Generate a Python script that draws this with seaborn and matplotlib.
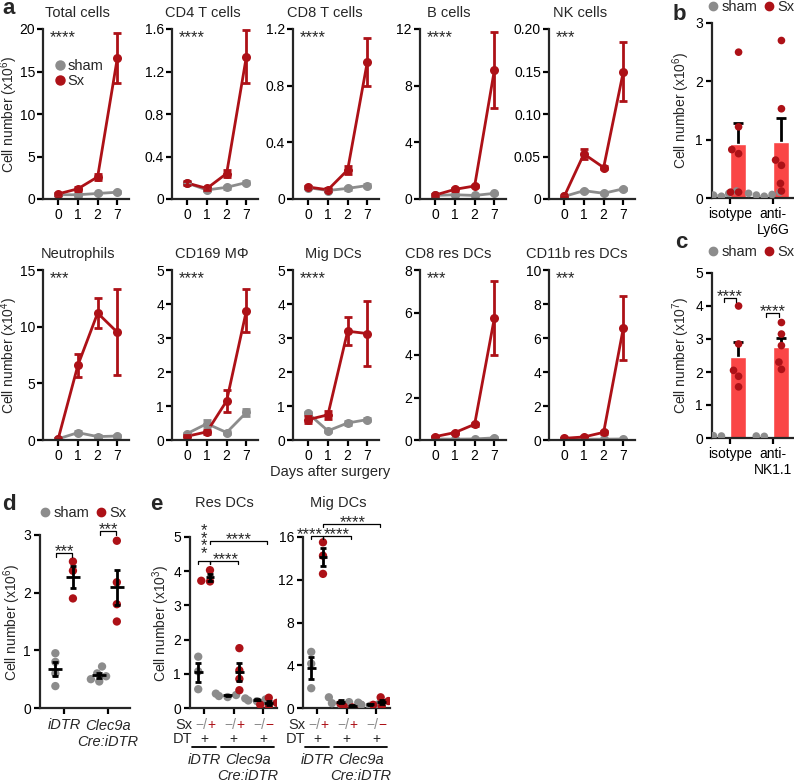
import numpy as np
import pandas as pd
import matplotlib
matplotlib.use("Agg")
import matplotlib.pyplot as plt
from matplotlib.lines import Line2D
from matplotlib import transforms
import seaborn as sns

W, H = 794, 782

RED = "#AD1117"
BAR_RED = "#FA4646"
GRAY = "#8C8C8C"

# ---------------- panel a: time course ----------------
days = ["0", "1", "2", "7"]
a_titles = ["Total cells", "CD4 T cells", "CD8 T cells", "B cells", "NK cells",
            "Neutrophils", "CD169 MΦ", "Mig DCs", "CD8 res DCs", "CD11b res DCs"]
a_stars = ["****", "****", "****", "****", "***", "***", "****", "****", "***", "***"]
sx_mean = [
    [0.6, 1.2, 2.6, 16.6],
    [0.15, 0.10, 0.24, 1.34],
    [0.085, 0.065, 0.205, 0.97],
    [0.28, 0.68, 0.92, 9.1],
    [0.003, 0.053, 0.037, 0.150],
    [0.1, 6.6, 11.2, 9.5],
    [0.11, 0.24, 1.15, 3.8],
    [0.6, 0.74, 3.2, 3.13],
    [0.16, 0.35, 0.74, 5.74],
    [0.1, 0.18, 0.45, 6.6],
]
sx_sem = [
    [0.1, 0.2, 0.35, 2.9],
    [0.02, 0.015, 0.035, 0.25],
    [0.01, 0.01, 0.03, 0.17],
    [0.05, 0.1, 0.1, 2.7],
    [0.001, 0.006, 0.002, 0.035],
    [0.1, 1.0, 1.3, 3.8],
    [0.03, 0.05, 0.33, 0.63],
    [0.1, 0.12, 0.42, 0.96],
    [0.03, 0.05, 0.08, 1.75],
    [0.02, 0.03, 0.08, 1.9],
]
sham_mean = [
    [0.5, 0.5, 0.65, 0.8],
    [0.15, 0.085, 0.11, 0.155],
    [0.08, 0.06, 0.075, 0.095],
    [0.25, 0.3, 0.25, 0.4],
    [0.003, 0.0098, 0.0067, 0.012],
    [0.1, 0.65, 0.3, 0.35],
    [0.19, 0.48, 0.22, 0.81],
    [0.78, 0.27, 0.5, 0.6],
    [0.05, 0.04, 0.05, 0.1],
    [0.05, 0.05, 0.05, 0.06],
]
sham_sem = [
    [0.05, 0.1, 0.1, 0.1],
    [0.01, 0.01, 0.015, 0.01],
    [0.005, 0.005, 0.008, 0.008],
    [0.03, 0.05, 0.05, 0.05],
    [0.0005, 0.001, 0.001, 0.001],
    [0.05, 0.15, 0.15, 0.1],
    [0.03, 0.1, 0.05, 0.1],
    [0.05, 0.03, 0.05, 0.05],
    [0.01, 0.01, 0.01, 0.02],
    [0.01, 0.01, 0.01, 0.01],
]
a_yticks = [[0, 5, 10, 15, 20], [0, 0.4, 0.8, 1.2, 1.6], [0, 0.4, 0.8, 1.2],
            [0, 4, 8, 12], [0, 0.05, 0.10, 0.15, 0.20], [0, 5, 10, 15],
            [0, 1, 2, 3, 4, 5], [0, 1, 2, 3, 4, 5], [0, 2, 4, 6, 8], [0, 2, 4, 6, 8, 10]]
a_yticklabels = [["0", "5", "10", "15", "20"], ["0", "0.4", "0.8", "1.2", "1.6"],
                 ["0", "0.4", "0.8", "1.2"], ["0", "4", "8", "12"],
                 ["0", "0.05", "0.10", "0.15", "0.20"], ["0", "5", "10", "15"],
                 ["0", "1", "2", "3", "4", "5"], ["0", "1", "2", "3", "4", "5"],
                 ["0", "2", "4", "6", "8"], ["0", "2", "4", "6", "8", "10"]]

# ---------------- panel b / c: bars with points ----------------
b_groups = ["isotype", "anti-\nLy6G"]
b_sham = [[0.05, 0.08, 0.10, 0.12, 0.15, 0.03], [0.05, 0.08, 0.10, 0.06, 0.03]]
b_sx = [[2.5, 1.22, 0.83, 0.76, 0.10, 0.10], [2.7, 1.53, 0.65, 0.56, 0.25, 0.12]]

c_groups = ["isotype", "anti-\nNK1.1"]
c_sham = [[0.07, 0.06], [0.05, 0.06]]
c_sx = [[4.0, 2.85, 2.05, 1.87, 1.55], [3.5, 3.15, 2.8, 2.3, 2.08]]

# ---------------- panel d ----------------
d_groups = ["iDTR", "Clec9a\nCre:iDTR"]
d_sham = [[0.95, 0.80, 0.60, 0.38], [0.72, 0.60, 0.55, 0.50, 0.46]]
d_sx = [[2.54, 2.38, 1.90], [2.90, 2.18, 1.80, 1.50]]

# ---------------- panel e ----------------
e_titles = ["Res DCs", "Mig DCs"]
e_sham = [
    [[1.50, 1.07, 0.55], [0.38, 0.32, 0.35, 0.42], [0.25, 0.20, 0.28, 0.22]],
    [[5.25, 4.15, 1.85], [0.55, 0.45, 1.00, 0.35], [0.35, 0.30, 0.50, 0.20]],
]
e_sx = [
    [[4.03, 3.70, 3.72], [1.75, 1.10, 0.85, 0.52], [0.15, 0.05, 0.10, 0.30]],
    [[15.5, 14.25, 12.55], [0.30, 0.05, 0.15, 0.40], [0.65, 0.15, 0.30, 1.00]],
]
e_ymax = [5, 16]
e_yticks = [[0, 1, 2, 3, 4, 5], [0, 4, 8, 12, 16]]
e_sx_row = [("−/", "+"), ("−/", "+"), ("−/", "−")]

sns.set_style("ticks")
plt.rcParams["font.family"] = ["Liberation Sans", "DejaVu Sans"]
plt.rcParams["mathtext.fontset"] = "custom"
plt.rcParams["mathtext.rm"] = "Liberation Sans"
plt.rcParams["mathtext.it"] = "Liberation Sans:italic"
plt.rcParams["axes.linewidth"] = 1.6
for k in ["xtick", "ytick"]:
    plt.rcParams[f"{k}.major.width"] = 1.6
    plt.rcParams[f"{k}.major.size"] = 4
    plt.rcParams[f"{k}.labelsize"] = 10
    plt.rcParams[f"{k}.color"] = "black"
    plt.rcParams[f"{k}.major.pad"] = 2.5

STAR_FS = 12
YLAB_FS = 10
fig = plt.figure(figsize=(W / 100, H / 100), dpi=100)


def px_axes(left, top, right, bottom):
    ax = fig.add_axes([left / W, 1 - bottom / H, (right - left) / W, (bottom - top) / H])
    sns.despine(ax=ax)
    return ax


def ftext(px, py, s, **kw):
    fig.text(px / W, 1 - py / H, s, **kw)


def stars(ax, x, y, text):
    ax.annotate(text, xy=(x, y), xytext=(0, 1.0), textcoords="offset points",
                ha="center", va="center", fontsize=STAR_FS, annotation_clip=False)


def bracket(ax, x1, x2, y, drop, text=None, tx=None):
    ax.plot([x1, x1, x2, x2], [y - drop, y, y, y - drop], color="black", lw=0.9,
            clip_on=False, zorder=5)
    if text:
        stars(ax, (x1 + x2) / 2 if tx is None else tx, y, text)


def mean_sem(vals):
    v = np.asarray(vals, dtype=float)
    return v.mean(), v.std(ddof=1) / np.sqrt(len(v))


def long_df(groups, sham, sx):
    rows = []
    for g, s_vals, x_vals in zip(groups, sham, sx):
        rows += [(g, "sham", v) for v in s_vals]
        rows += [(g, "Sx", v) for v in x_vals]
    return pd.DataFrame(rows, columns=["group", "cond", "value"])


pal_pts = {"sham": GRAY, "Sx": RED}

# ---------------- draw panel a ----------------
lefts = [43, 172, 293, 420, 549]
rows_y = [(29, 199), (270, 440)]
title_x = [77, 203, 325, 449, 580, 78, 212, 333, 448, 577]
for i in range(10):
    r, c = divmod(i, 5)
    ax = px_axes(lefts[c], rows_y[r][0], lefts[c] + 86, rows_y[r][1])
    df = pd.DataFrame({
        "pos": list(range(4)) * 2,
        "value": sham_mean[i] + sx_mean[i],
        "cond": ["sham"] * 4 + ["Sx"] * 4,
    })
    sns.lineplot(data=df, x="pos", y="value", hue="cond", hue_order=["sham", "Sx"],
                 palette=pal_pts, marker="o", markersize=6.5, markeredgewidth=0,
                 linewidth=2, errorbar=None, legend=False, ax=ax)
    ax.errorbar(range(4), sham_mean[i], yerr=sham_sem[i], fmt="none", ecolor=GRAY,
                elinewidth=2, capsize=3, capthick=2)
    ax.errorbar(range(4), sx_mean[i], yerr=sx_sem[i], fmt="none", ecolor=RED,
                elinewidth=2, capsize=3, capthick=2)
    ax.set_xlim(-0.77, 3.59)
    ax.set_ylim(0, a_yticks[i][-1])
    ax.set_xticks(range(4))
    ax.set_xticklabels(days)
    ax.set_yticks(a_yticks[i])
    ax.set_yticklabels(a_yticklabels[i])
    ax.tick_params(axis="y", pad=1.8)
    ax.set_xlabel("")
    ax.set_ylabel("")
    ax.text(0.08, 0.995, a_stars[i], transform=ax.transAxes, ha="left", va="top",
            fontsize=STAR_FS)
    ftext(title_x[i], rows_y[r][0] - 16, a_titles[i], ha="center", va="center", fontsize=10.5)
    if i == 0:
        handles = [Line2D([], [], marker="o", color=GRAY, ls="none", markersize=6.5),
                   Line2D([], [], marker="o", color=RED, ls="none", markersize=6.5)]
        ax.legend(handles, ["sham", "Sx"], loc="upper left", bbox_to_anchor=(48 / W, 1 - 52 / H),
                  bbox_transform=fig.transFigure, frameon=False, fontsize=10.5,
                  handlelength=0.6, handletextpad=0.25, labelspacing=0.05, borderpad=0)

ftext(9.5, 114, "Cell number (x10$^{6}$)", rotation=90, ha="center", va="center",
      fontsize=YLAB_FS)
ftext(9.5, 355, "Cell number (x10$^{4}$)", rotation=90, ha="center", va="center",
      fontsize=YLAB_FS)
ftext(330, 472, "Days after surgery", ha="center", va="center", fontsize=10.5)


# ---------------- draw panel b and c ----------------
def bar_panel(top, bottom, groups, sham, sx, ymax, ylabel, legend_y):
    ax = px_axes(712, top, 793, bottom)
    df = long_df(groups, sham, sx)
    sns.barplot(data=df, x="group", y="value", hue="cond", hue_order=["sham", "Sx"],
                order=groups, palette={"sham": "#BDBDBD", "Sx": BAR_RED}, errorbar=None,
                width=0.76, saturation=1, legend=False, ax=ax)
    sns.swarmplot(data=df, x="group", y="value", hue="cond", hue_order=["sham", "Sx"],
                  order=groups, palette=pal_pts, dodge=True, size=5.5, legend=False, ax=ax)
    for gi in range(len(groups)):
        m, s = mean_sem(sx[gi])
        ax.errorbar(gi + 0.19, m, yerr=s, fmt="none", ecolor="black", elinewidth=2,
                    capsize=3.5, capthick=2, zorder=0.9)
    ax.set_xlim(-0.42, 1.47)
    ax.set_ylim(0, ymax)
    ax.set_yticks(range(ymax + 1))
    ax.set_xlabel("")
    ax.set_ylabel("")
    ftext(681, (top + bottom) / 2, ylabel, rotation=90, ha="center", va="center",
          fontsize=YLAB_FS)
    handles = [Line2D([], [], marker="o", color=GRAY, ls="none", markersize=6),
               Line2D([], [], marker="o", color=RED, ls="none", markersize=6)]
    fig.legend(handles, ["sham", "Sx"], loc="center", bbox_to_anchor=(752 / W, 1 - legend_y / H),
               frameon=False, fontsize=10.5, ncol=2, handlelength=0.5, handletextpad=0.3,
               columnspacing=0.6, borderpad=0)
    return ax


ax_b = bar_panel(23, 198, b_groups, b_sham, b_sx, 3, "Cell number (x10$^{6}$)", 7)
ax_c = bar_panel(273, 438, c_groups, c_sham, c_sx, 5, "Cell number (x10$^{7}$)", 252)
bracket(ax_c, -0.15, 0.15, 4.24, 0.12, "****")
bracket(ax_c, 0.85, 1.15, 3.79, 0.12, "****")


# ---------------- scatter with mean +/- sem ----------------
def mean_bars(ax, x, vals, half):
    m, s = mean_sem(vals)
    ax.hlines(m, x - half, x + half, color="black", lw=2, zorder=6)
    ax.errorbar(x, m, yerr=s, fmt="none", ecolor="black", elinewidth=2, capsize=2.5,
                capthick=2, zorder=6)


# panel d
ax_d = px_axes(40, 535, 130, 708)
df_d = long_df(["iDTR", "Clec9a"], d_sham, d_sx)
sns.swarmplot(data=df_d, x="group", y="value", hue="cond", hue_order=["sham", "Sx"],
              palette=pal_pts, dodge=True, size=6, legend=False, ax=ax_d)
for gi in range(2):
    mean_bars(ax_d, gi - 0.2, d_sham[gi], 0.16)
    mean_bars(ax_d, gi + 0.2, d_sx[gi], 0.16)
ax_d.set_xlim(-0.55, 1.5)
ax_d.set_ylim(0, 3)
ax_d.set_yticks([0, 1, 2, 3])
ax_d.set_xticklabels([])
ax_d.set_xlabel("")
ax_d.set_ylabel("")
bracket(ax_d, -0.18, 0.18, 2.69, 0.07, "***")
bracket(ax_d, 0.82, 1.18, 3.07, 0.07, "***")
tr_d = transforms.blended_transform_factory(ax_d.transData, fig.transFigure)
ax_d.text(0, 1 - 725 / H, "iDTR", transform=tr_d, ha="center", va="center", fontsize=10.5,
          style="italic")
ax_d.text(1, 1 - 734 / H, d_groups[1], transform=tr_d, ha="center", va="center",
          fontsize=10.5, style="italic", linespacing=1.15)
ftext(12, 622, "Cell number (x10$^{6}$)", rotation=90, ha="center", va="center",
      fontsize=YLAB_FS)
handles = [Line2D([], [], marker="o", color=GRAY, ls="none", markersize=6),
           Line2D([], [], marker="o", color=RED, ls="none", markersize=6)]
fig.legend(handles, ["sham", "Sx"], loc="center", bbox_to_anchor=(84 / W, 1 - 513 / H),
           frameon=False, fontsize=10.5, ncol=2, handlelength=0.5, handletextpad=0.3,
           columnspacing=0.6, borderpad=0)

# panel e
e_lefts = [190, 303]
for k in range(2):
    ax = px_axes(e_lefts[k], 537, e_lefts[k] + 87, 708)
    groups = ["g0", "g1", "g2"]
    df = long_df(groups, e_sham[k], e_sx[k])
    sns.swarmplot(data=df, x="group", y="value", hue="cond", hue_order=["sham", "Sx"],
                  palette=pal_pts, dodge=True, size=6, legend=False, ax=ax)
    for gi in range(3):
        mean_bars(ax, gi - 0.2, e_sham[k][gi], 0.15)
        mean_bars(ax, gi + 0.2, e_sx[k][gi], 0.15)
    ax.set_xlim(-0.48, 2.48)
    ax.set_ylim(0, e_ymax[k])
    ax.set_yticks(e_yticks[k])
    ax.set_xticklabels([])
    ax.set_xlabel("")
    ax.set_ylabel("")
    ax.text(0.4, 1 - 503 / H, e_titles[k], transform=transforms.blended_transform_factory(
        ax.transAxes, fig.transFigure), ha="center", va="center", fontsize=10.5)
    tr = transforms.blended_transform_factory(ax.transData, fig.transFigure)
    for gi, (left_txt, right_txt) in enumerate(e_sx_row):
        ax.text(gi + 0.1, 1 - 725 / H, left_txt, transform=tr, ha="right", va="center",
                fontsize=10, color=GRAY)
        ax.text(gi + 0.1, 1 - 725 / H, right_txt, transform=tr, ha="left", va="center",
                fontsize=10, color=RED)
        ax.text(gi, 1 - 739 / H, "+", transform=tr, ha="center", va="center", fontsize=10)
    ax.text(-0.4, 1 - 725 / H, "Sx", transform=tr, ha="right", va="center", fontsize=10.5)
    ax.text(-0.4, 1 - 739 / H, "DT", transform=tr, ha="right", va="center", fontsize=10.5)
    ax.plot([-0.42, 0.42], [1 - 747 / H] * 2, transform=tr, color="black", lw=1.3, clip_on=False)
    ax.plot([0.58, 2.38], [1 - 747 / H] * 2, transform=tr, color="black", lw=1.3, clip_on=False)
    ax.text(0, 1 - 760 / H, "iDTR", transform=tr, ha="center", va="center", fontsize=10.5,
            style="italic")
    ax.text(1.5, 1 - 768 / H, "Clec9a\nCre:iDTR", transform=tr, ha="center", va="center",
            fontsize=10.5, style="italic", linespacing=1.15)
    d = 0.018 * e_ymax[k]
    if k == 0:
        bracket(ax, -0.2, 0.2, 4.3, d)
        ax.text(0, 4.3, "*\n*\n*\n*", ha="center", va="bottom", fontsize=STAR_FS,
                linespacing=0.37, clip_on=False)
        bracket(ax, 0.2, 1.17, 4.3, d, "****", tx=0.72)
        bracket(ax, 0.2, 2.13, 4.88, d, "****", tx=1.19)
    else:
        bracket(ax, -0.2, 0.2, 16.1, d, "****", tx=-0.25)
        bracket(ax, 0.2, 1.15, 16.1, d, "****", tx=0.68)
        bracket(ax, 0.2, 2.15, 17.2, d, "****", tx=1.2)

ftext(161, 623, "Cell number (x10$^{3}$)", rotation=90, ha="center", va="center",
      fontsize=YLAB_FS)

# panel letters
for letter, (lx, ly) in {"a": (2, 14), "b": (673, 20), "c": (675, 248),
                         "d": (2, 510), "e": (150, 510)}.items():
    ftext(lx, ly, letter, ha="left", va="baseline", fontsize=16, fontweight="bold")

fig.savefig("out.png", dpi=100)
